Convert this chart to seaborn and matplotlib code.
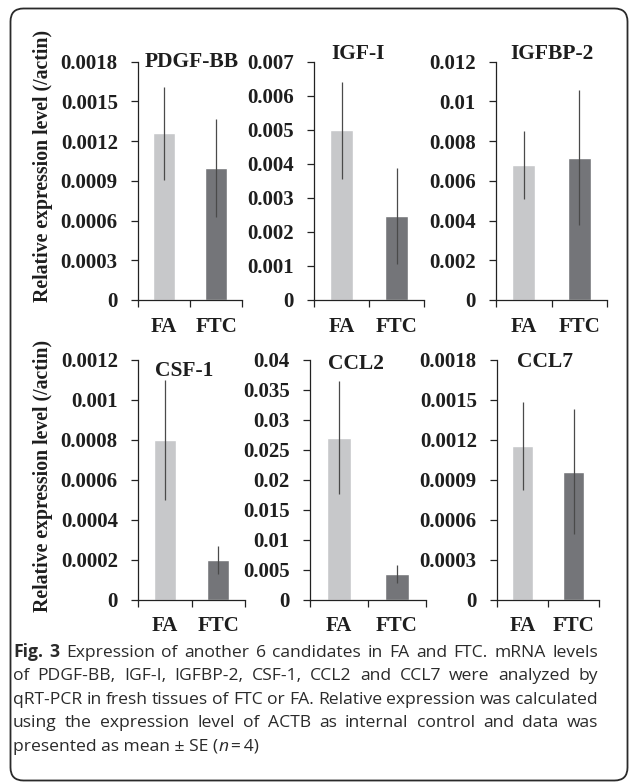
import numpy as np
import pandas as pd
import matplotlib
matplotlib.use("Agg")
import matplotlib.pyplot as plt
import seaborn as sns
from matplotlib.patches import FancyBboxPatch
from matplotlib.transforms import IdentityTransform

# ---------------- data ----------------
groups = ["FA", "FTC"]
genes = ["PDGF-BB", "IGF-I", "IGFBP-2", "CSF-1", "CCL2", "CCL7"]
pdgf_mean = [0.00126, 0.00100]
pdgf_se = [0.00035, 0.00037]
igf_mean = [0.00498, 0.00248]
igf_se = [0.00143, 0.00141]
igfbp_mean = [0.0068, 0.00716]
igfbp_se = [0.0017, 0.0034]
csf_mean = [0.00080, 0.00020]
csf_se = [0.00030, 0.00007]
ccl2_mean = [0.0270, 0.00428]
ccl2_se = [0.0094, 0.00150]
ccl7_mean = [0.00115, 0.00096]
ccl7_se = [0.00033, 0.00047]
means = [pdgf_mean, igf_mean, igfbp_mean, csf_mean, ccl2_mean, ccl7_mean]
ses = [pdgf_se, igf_se, igfbp_se, csf_se, ccl2_se, ccl7_se]
ytick_max = [0.0018, 0.007, 0.012, 0.0012, 0.04, 0.0018]
ytick_step = [0.0003, 0.001, 0.002, 0.0002, 0.005, 0.0003]
ylabel = "Relative expression level (/actin)"
caption_lines = [
    [("Fig. 3", "bold", "normal"), (" Expression of another 6 candidates in FA and FTC. mRNA levels", "normal", "normal")],
    [("of PDGF-BB, IGF-I, IGFBP-2, CSF-1, CCL2 and CCL7 were analyzed by", "normal", "normal")],
    [("qRT-PCR in fresh tissues of FTC or FA. Relative expression was calculated", "normal", "normal")],
    [("using the expression level of ACTB as internal control and data was", "normal", "normal")],
    [("presented as mean \u00b1 SE (", "normal", "normal"), ("n", "normal", "italic"), ("\u2009=\u20094)", "normal", "normal")],
]

# ---------------- style ----------------
sns.set_theme(style="white")
plt.rcParams["font.family"] = ["Liberation Serif", "DejaVu Serif"]
W, H = 629, 782
fig = plt.figure(figsize=(W / 100, H / 100), dpi=100)
fig.patch.set_facecolor("white")

colors = ["#c7c8ca", "#747579"]
txt = "#1e1e1e"

# pixel layout: (left, right, top, bottom)
boxes = [(138, 242, 61.7, 300), (314, 424, 61.7, 300), (496, 607, 61.7, 300),
         (138, 245, 359.5, 599.5), (310, 426, 359.5, 599.5), (497, 599, 359.5, 599.5)]
title_pos = [(191.5, 62), (358, 54), (551.5, 54), (184.5, 371.5), (355.5, 364), (544.5, 362)]

for i in range(6):
    l, r, t, b = boxes[i]
    ax = fig.add_axes([l / W, 1 - b / H, (r - l) / W, (b - t) / H])
    df = pd.DataFrame({"group": groups, "value": means[i]})
    sns.barplot(data=df, x="group", y="value", hue="group", palette=colors,
                width=0.42, legend=False, ax=ax, errorbar=None, saturation=1)
    ax.errorbar([0, 1], means[i], yerr=ses[i], fmt="none", ecolor="#4a4a4a",
                elinewidth=0.9, capsize=0)
    n = int(round(ytick_max[i] / ytick_step[i]))
    ticks = [round(k * ytick_step[i], 6) for k in range(n + 1)]
    ax.set_ylim(0, ytick_max[i])
    ax.set_yticks(ticks)
    ax.set_yticklabels([f"{v:g}" for v in ticks], fontsize=15, fontweight="bold", color=txt)
    ax.set_xlim(-0.5, 1.5)
    ax.set_xticks([0, 1])
    ax.set_xticklabels(groups, fontsize=15, fontweight="bold", color=txt)
    ax.set_xticks([-0.5, 0.5, 1.5], minor=True)
    ax.tick_params(axis="x", which="major", length=0, pad=12)
    ax.tick_params(axis="x", which="minor", length=5, width=0.9, color="#222222", direction="out", bottom=True)
    ax.tick_params(axis="y", which="major", length=5, width=0.9, color="#222222", direction="out", left=True, pad=9.5)
    ax.set_xlabel("")
    ax.set_ylabel("")
    for s in ["top", "right"]:
        ax.spines[s].set_visible(False)
    for s in ["left", "bottom"]:
        ax.spines[s].set_color("#222222")
        ax.spines[s].set_linewidth(0.9)
    ax.set_facecolor("none")
    tx, ty = title_pos[i]
    fig.text(tx / W, 1 - ty / H, genes[i], ha="center", va="center",
             fontsize=15.5, fontweight="bold", color=txt)

for yc in (166, 476):
    fig.text(43 / W, 1 - yc / H, ylabel, rotation=90, ha="center", va="center",
             fontsize=14.2, fontweight="bold", color=txt)

# caption (justified, like the journal layout)
fig.canvas.draw()
renderer = fig.canvas.get_renderer()
cap_family = ["Open Sans", "DejaVu Sans"]
cap_size = 12.6
cap_color = "#2a2a2a"
x_left, x_right = 13, 598


def put(x, y, s, wgt, sty):
    t = fig.text(x / W, 1 - y / H, s, ha="left", va="baseline", fontsize=cap_size,
                 fontweight=wgt, fontstyle=sty, family=cap_family, color=cap_color)
    return t.get_window_extent(renderer).x1


def width_of(s, wgt, sty):
    t = fig.text(0, 0, s, fontsize=cap_size, fontweight=wgt, fontstyle=sty, family=cap_family)
    w = t.get_window_extent(renderer).width
    t.remove()
    return w


for li, segs in enumerate(caption_lines):
    y = 657 + li * 23.4
    if li < len(caption_lines) - 1:
        words = [(w, wgt, sty) for s, wgt, sty in segs for w in s.split()]
        widths = [width_of(w, wgt, sty) for w, wgt, sty in words]
        gap = (x_right - x_left - sum(widths)) / (len(words) - 1)
        x = x_left
        for (w, wgt, sty), wd in zip(words, widths):
            put(x, y, w, wgt, sty)
            x += wd + gap
    else:
        x = x_left
        for s, wgt, sty in segs:
            x = put(x, y, s, wgt, sty)

# border
border = FancyBboxPatch((10.5, 1.5), 617, 772, boxstyle="round,pad=0,rounding_size=13",
                        transform=IdentityTransform(), fill=False, edgecolor="#2a2a2a", linewidth=1.3)
fig.patches.append(border)

fig.savefig("out.png", dpi=100, facecolor="white")
